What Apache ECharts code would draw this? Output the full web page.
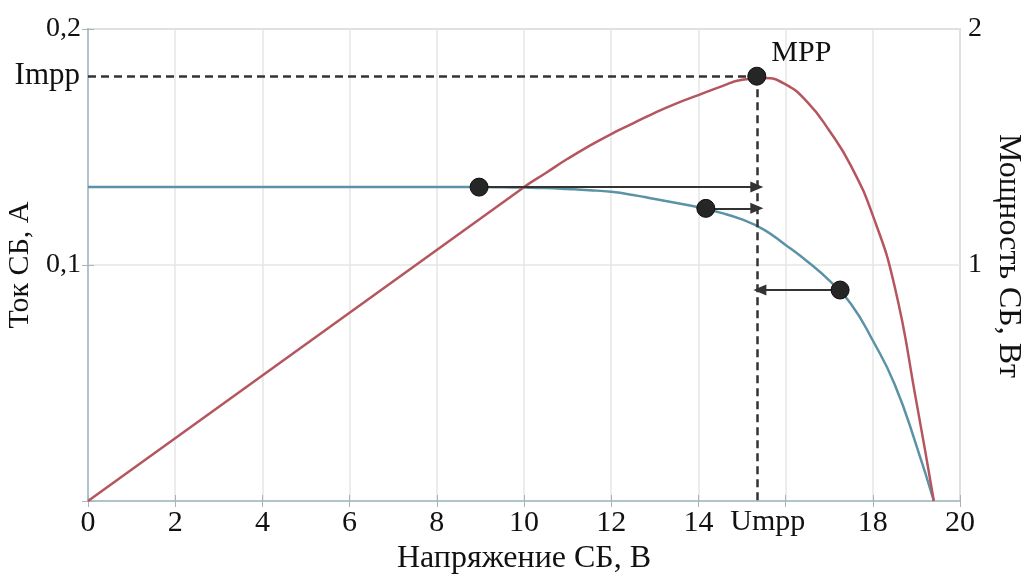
<!DOCTYPE html>
<html>
<head>
<meta charset="utf-8">
<script src="https://cdn.jsdelivr.net/npm/echarts@6/dist/echarts.min.js"></script>
<style>
  * { margin: 0; padding: 0; }
  body { background: #fff; }
  #main { width: 1024px; height: 575px; }
</style>
</head>
<body>
<div id="main"></div>
<script>
  // ВАХ солнечной батареи и кривая мощности
  var currentV = [0, 2, 4, 6, 8, 9, 9.5, 10, 10.5, 11, 11.5, 12, 12.5, 13, 13.5, 14, 14.5, 15, 15.5, 16, 16.5, 17, 17.5, 18, 18.5, 19, 19.4];
  var currentA = [0.133, 0.133, 0.133, 0.133, 0.133, 0.133, 0.1329, 0.1328, 0.1326, 0.1322, 0.1317, 0.131, 0.1297, 0.128, 0.1263, 0.1245, 0.1222, 0.1193, 0.1150, 0.1085, 0.1015, 0.0935, 0.0835, 0.068, 0.0495, 0.0235, 0];
  var powerV = [0, 10, 10.5, 11, 11.5, 12, 12.5, 13, 13.5, 14, 14.5, 15, 15.5, 16, 16.5, 17, 17.5, 18, 18.5, 19, 19.4];
  var powerW = [0, 1.33, 1.39, 1.45, 1.505, 1.555, 1.60, 1.645, 1.685, 1.72, 1.755, 1.785, 1.792, 1.765, 1.69, 1.57, 1.42, 1.21, 0.91, 0.42, 0];

  var pointV = [8.97, 14.17, 17.25];
  var pointA = [0.133, 0.124, 0.0894];
  var mppV = 15.34;
  var mppW = 1.80;

  // стрелки: [от U, до U, ток]
  var arrows = [[8.97, 15.34, 0.133], [14.17, 15.34, 0.124], [17.25, 15.41, 0.0894]];

  var font = 'Liberation Serif';
  var axisColor = '#b3c4c8';

  function zip(a, b) {
    var out = [];
    for (var i = 0; i < a.length; i++) out.push([a[i], b[i]]);
    return out;
  }

  var dot = { color: '#262626', borderColor: '#0d0d0d', borderWidth: 1, opacity: 1 };

  var chart = echarts.init(document.getElementById('main'));
  chart.setOption({
    animation: false,
    grid: {
      left: 88, right: 64, top: 29, bottom: 74, containLabel: false, outerBoundsMode: 'none',
      show: true, borderColor: axisColor, borderWidth: 1.5
    },
    xAxis: [{
      type: 'value', min: 0, max: 20, interval: 2,
      name: 'Напряжение СБ, В', nameLocation: 'middle', nameGap: 42,
      nameTextStyle: { fontFamily: font, fontSize: 32, color: '#111' },
      axisLine: { lineStyle: { color: axisColor, width: 2 } },
      axisTick: { inside: true, length: 6, lineStyle: { color: '#a8b4b8' } },
      axisLabel: {
        margin: 7, fontFamily: font, fontSize: 30, color: '#111',
        formatter: function (v) { return v === 16 ? '' : String(v); }
      },
      splitLine: { lineStyle: { color: '#e6e6e6', width: 1.5 } }
    }, {
      type: 'value', min: 0, max: 20, interval: 2, position: 'top',
      axisLine: { lineStyle: { color: axisColor } },
      axisTick: { inside: true, length: 6, lineStyle: { color: '#a8b4b8' } },
      axisLabel: { show: false }, splitLine: { show: false }
    }],
    yAxis: [{
      type: 'value', min: 0, max: 0.2, interval: 0.1,
      name: 'Ток СБ, А', nameLocation: 'middle', nameGap: 46,
      nameTextStyle: { fontFamily: font, fontSize: 30, color: '#111' },
      axisLine: { show: true, lineStyle: { color: axisColor, width: 2 } },
      axisTick: { show: true, inside: true, length: 6, lineStyle: { color: '#a8b4b8' } },
      axisLabel: {
        margin: 7, fontFamily: font, fontSize: 28, color: '#111',
        formatter: function (v) { return v === 0 ? '' : v.toFixed(1).replace('.', ','); }
      },
      splitLine: { lineStyle: { color: '#e6e6e6', width: 1.5 } }
    }, {
      type: 'value', min: 0, max: 2, interval: 1, position: 'right',
      name: 'Мощность СБ, Вт', nameLocation: 'middle', nameGap: 26, nameRotate: -90,
      nameTextStyle: { fontFamily: font, fontSize: 32, color: '#111', padding: [0, 18, 0, 0] },
      axisLine: { show: true, lineStyle: { color: axisColor, width: 2 } },
      axisTick: { show: true, inside: true, length: 6, lineStyle: { color: '#a8b4b8' } },
      axisLabel: {
        margin: 8, fontFamily: font, fontSize: 28, color: '#111',
        formatter: function (v) { return v === 0 ? '' : String(v); }
      },
      splitLine: { show: false }
    }],
    series: [{
      name: 'Ток', type: 'line', yAxisIndex: 0, smooth: 0.5, symbol: 'none',
      data: zip(currentV, currentA),
      lineStyle: { color: '#5b93a6', width: 2.5 }, z: 3
    }, {
      name: 'Мощность', type: 'line', yAxisIndex: 1, smooth: 0.5, symbol: 'none',
      data: zip(powerV, powerW),
      lineStyle: { color: '#b5565f', width: 2.5 }, z: 3,
      markLine: {
        silent: true, symbol: 'none',
        lineStyle: { color: '#333', type: [8, 5], width: 2.5 },
        label: { fontFamily: font, fontSize: 30, color: '#111' },
        data: [
          [{ coord: [0, mppW], label: { position: 'start', formatter: 'Impp', distance: 8, fontSize: 31 } }, { coord: [mppV, mppW] }],
          [{ coord: [mppV, mppW], label: { position: 'end', formatter: 'Umpp', distance: 6, padding: [0, 0, 0, 22] } }, { coord: [mppV, 0] }]
        ]
      }
    }, {
      name: 'Стрелки', type: 'line', yAxisIndex: 0, data: [], z: 4,
      markLine: {
        silent: true, symbol: ['none', 'triangle'], symbolSize: [11, 13],
        lineStyle: { color: '#333', type: 'solid', width: 2 },
        label: { show: false },
        data: arrows.map(function (a) {
          return [{ coord: [a[0], a[2]] }, { coord: [a[1], a[2]] }];
        })
      }
    }, {
      name: 'Точки', type: 'scatter', yAxisIndex: 0, symbolSize: 18, z: 5,
      itemStyle: dot,
      data: zip(pointV, pointA)
    }, {
      name: 'MPP', type: 'scatter', yAxisIndex: 1, symbolSize: 18, z: 5,
      itemStyle: dot,
      label: { show: true, formatter: 'MPP', position: [24, -29], fontFamily: font, fontSize: 30, color: '#111' },
      data: [[mppV, mppW]]
    }]
  });
</script>
</body>
</html>
